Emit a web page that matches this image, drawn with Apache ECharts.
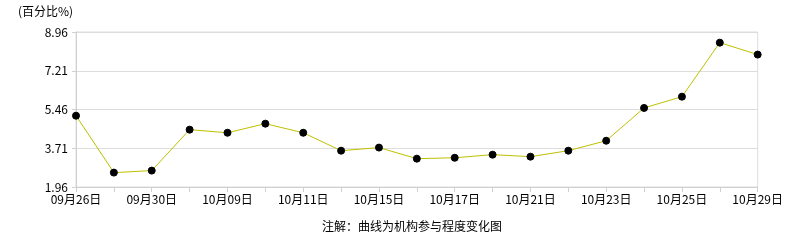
<!DOCTYPE html>
<html><head><meta charset="utf-8">
<script src="https://cdn.jsdelivr.net/npm/echarts@6/dist/echarts.min.js"></script>
<style>html,body{margin:0;padding:0;background:#fff}#c{width:786px;height:240px}</style>
</head><body><div id="c"></div>
<script>
const categories = ['09月26日','09月28日','09月30日','10月08日','10月09日','10月10日','10月11日','10月14日','10月15日','10月16日','10月17日','10月18日','10月21日','10月22日','10月23日','10月24日','10月25日','10月28日','10月29日'];
const values = [5.18, 2.61, 2.70, 4.55, 4.41, 4.82, 4.41, 3.60, 3.74, 3.24, 3.28, 3.42, 3.33, 3.60, 4.05, 5.53, 6.04, 8.48, 7.94];
const yTicks = [1.96, 3.71, 5.46, 7.21, 8.96];
const unitLabel = '(百分比%)';
const note = '注解：曲线为机构参与程度变化图';

const FONT = '"Noto Sans CJK SC", "DejaVu Sans", sans-serif';
const chart = echarts.init(document.getElementById('c'), null, {renderer: 'canvas'});
chart.setOption({
  animation: false,
  backgroundColor: '#fff',
  grid: {left: 76, right: 26, top: 32, bottom: 53, show: true, borderColor: '#dddddd', borderWidth: 1},
  graphic: [
    {type: 'text', left: 18, top: 5, style: {text: unitLabel, font: '12px ' + FONT, fill: '#000'}},
    {type: 'text', left: 322, top: 220, style: {text: note, font: '12px ' + FONT, fill: '#000'}}
  ],
  xAxis: {
    type: 'category', data: categories, boundaryGap: false,
    axisLine: {lineStyle: {color: '#d0d0d0'}},
    axisTick: {show: true, interval: 0, length: 5, lineStyle: {color: '#d0d0d0'}},
    axisLabel: {interval: 1, color: '#000', fontFamily: FONT, fontSize: 12, margin: 6},
    splitLine: {show: false}
  },
  yAxis: {
    type: 'value', min: yTicks[0], max: yTicks[yTicks.length - 1], interval: 1.75,
    axisLine: {show: true, lineStyle: {color: '#d0d0d0'}},
    axisTick: {show: true, length: 4, lineStyle: {color: '#d0d0d0'}},
    axisLabel: {color: '#000', fontFamily: FONT, fontSize: 12, margin: 8, formatter: v => v.toFixed(2)},
    splitLine: {show: true, lineStyle: {color: '#dddddd'}}
  },
  series: [{
    type: 'line', data: values,
    lineStyle: {color: '#c0c000', width: 1},
    itemStyle: {color: '#000', borderColor: '#000'},
    symbol: 'circle', symbolSize: 7, showAllSymbol: true
  }]
});
</script></body></html>
